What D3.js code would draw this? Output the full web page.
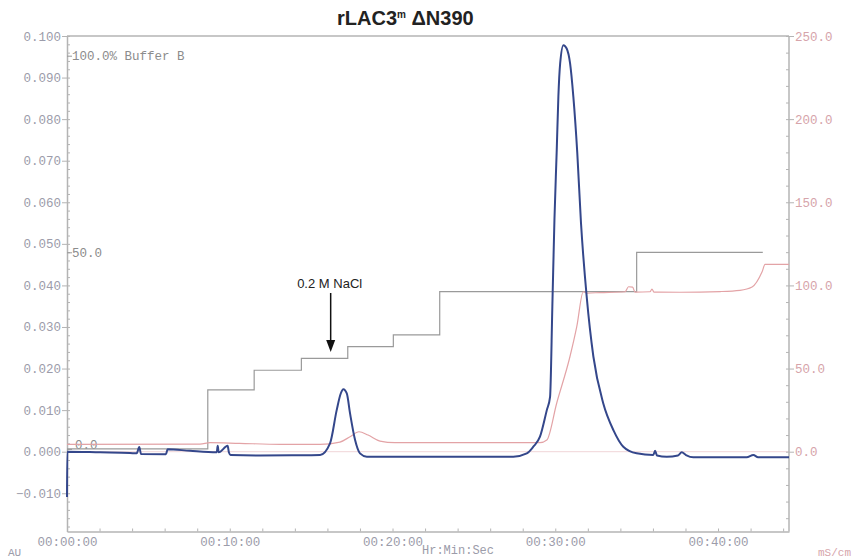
<!DOCTYPE html>
<html>
<head>
<meta charset="utf-8">
<script src="https://cdn.jsdelivr.net/npm/d3@7"></script>
<style>
  body { margin: 0; background: #fff; }
  text { font-family: "Liberation Mono", "DejaVu Sans Mono", monospace; }
</style>
</head>
<body>
<svg id="chart" width="858" height="558"></svg>
<script>
// UV 280 trace (time in min, absorbance in AU)
var uvTime = [0, 0.02, 2.03, 3.87, 4.28, 4.44, 4.55, 6.08, 6.18, 7.56, 9.2, 9.26, 9.32, 9.87, 9.95, 10.05,
  11.86, 14.32, 15.55, 16.16, 16.57, 16.82, 16.98, 17.19, 17.39, 17.7, 18.0, 18.42, 27.42, 28.25, 28.65,
  29.06, 29.48, 29.68, 29.82, 29.95, 30.09, 30.19, 30.3, 30.5, 30.7, 30.91, 31.11, 31.35, 31.58, 31.93, 32.34,
  32.95, 33.57, 34.18, 35.0, 36.02, 36.13, 36.25, 36.85, 37.54, 37.77, 38.03, 38.48, 41.76, 42.17, 42.46, 44.36];
var uvAbs = [-0.0109, 0.0, -0.00015, -0.0003, -0.0004, 0.0011, -0.00055, -0.0006, 0.0006, 0.0002, -0.00015, 0.0014, -0.00015, 0.0014, -0.0002, -0.0008,
  -0.0009, -0.00087, -0.0008, 0.002, 0.010, 0.014, 0.015, 0.014, 0.0092, 0.0028, -0.0004, -0.0012, -0.0012, -0.0004, 0.0012,
  0.0036, 0.010, 0.0132, 0.035, 0.056, 0.0726, 0.0854, 0.0934, 0.0978, 0.0970, 0.0934, 0.0854, 0.072, 0.055, 0.0373, 0.0229,
  0.0116, 0.0052, 0.0012, -0.0004, -0.0008, 0.0002, -0.0009, -0.0012, -0.0009, -0.00015, -0.0008, -0.00135, -0.00135, -0.0008, -0.00135, -0.00135];

// conductivity (mS/cm)
var condTime = [0, 8.17, 8.79, 10.6, 13.1, 15.55, 16.77, 17.39, 17.94, 18.5, 19.23, 20.15, 29.06, 29.48, 30.09, 30.9,
  31.32, 31.72, 31.95, 32.75, 34.29, 34.5, 34.75, 34.9, 35.82, 35.94, 36.06, 37.66, 40.12, 41.35, 42.09, 42.7, 42.89, 44.36];
var condValue = [4.45, 4.6, 5.4, 5.0, 4.45, 4.45, 5.8, 9.0, 12.0, 10.0, 6.4, 5.4, 5.4, 7.0, 29.3, 57.1,
  75.2, 96.2, 95.4, 95.7, 96.2, 99.2, 99.0, 96.0, 96.2, 97.8, 96.0, 95.9, 96.3, 97.0, 99.0, 108, 112.6, 112.6];

// step gradient (% Buffer B)
var gradTime = [0, 8.65, 11.5, 14.4, 17.25, 20.05, 22.9, 35.0, 42.75];
var gradPct = [0, 15, 20, 23, 26, 29, 40, 50, 50];

var auTicks = [-0.010, 0.000, 0.010, 0.020, 0.030, 0.040, 0.050, 0.060, 0.070, 0.080, 0.090, 0.100];
var condTicks = [0, 50, 100, 150, 200, 250];
var timeTicks = [0, 10, 20, 30, 40];
var timeLabels = ["00:00:00", "00:10:00", "00:20:00", "00:30:00", "00:40:00"];
var pctTicks = [0, 50, 100];
var pctLabels = ["0.0", "50.0", "100.0% Buffer B"];

var svg = d3.select("#chart");
var plotL = 67, plotR = 789, plotT = 36, plotB = 531.5;

var x = d3.scaleLinear().domain([0, 44.36]).range([plotL, plotR]);
var yAU = d3.scaleLinear().domain([-0.0192, 0.100]).range([plotB, plotT]);
var yCond = d3.scaleLinear().domain([0, 250]).range([yAU(0), yAU(0.1)]);
var yPct = d3.scaleLinear().domain([0, 100]).range([448.9, 55.7]);

var axisColor = "#b4b4b4", leftText = "#9c9caa", rightText = "#d6a4aa";

function styleAxis(g, color){
  g.select(".domain").attr("stroke", axisColor);
  g.selectAll(".tick line").attr("stroke", axisColor);
  g.selectAll(".tick text").attr("fill", color).style("font-size", "12.5px").style("font-family", "Liberation Mono, monospace");
}

// frame top line
svg.append("line").attr("x1", plotL).attr("x2", plotR).attr("y1", plotT).attr("y2", plotT)
  .attr("stroke", axisColor).attr("stroke-width", 1.5);

// faint zero line for conductivity
svg.append("line").attr("x1", plotL).attr("x2", plotR).attr("y1", yCond(0)).attr("y2", yCond(0))
  .attr("stroke", "#f0d6d8").attr("stroke-width", 1);

/*************************** axes ***************************/

var minorAU = d3.range(-18, 101, 2).map(function(d){ return d / 1000; });
svg.append("g").attr("transform", "translate(" + plotL + ",0)")
  .call(d3.axisRight(yAU).tickValues(minorAU).tickSize(3).tickFormat(""))
  .call(function(g){ g.select(".domain").remove(); g.selectAll("line").attr("stroke", axisColor); });

var gl = svg.append("g").attr("transform", "translate(" + plotL + ",0)")
  .call(d3.axisLeft(yAU).tickValues(auTicks).tickSize(5).tickPadding(1).tickFormat(d3.format(".3f")).tickSizeOuter(0));
styleAxis(gl, leftText);
gl.select(".domain").attr("stroke-width", 1.5);

var minorCond = d3.range(-40, 251, 10);
svg.append("g").attr("transform", "translate(" + plotR + ",0)")
  .call(d3.axisLeft(yCond).tickValues(minorCond).tickSize(3).tickFormat(""))
  .call(function(g){ g.select(".domain").remove(); g.selectAll("line").attr("stroke", axisColor); });

var gr = svg.append("g").attr("transform", "translate(" + plotR + ",0)")
  .call(d3.axisRight(yCond).tickValues(condTicks).tickSize(5).tickPadding(1).tickFormat(d3.format(".1f")).tickSizeOuter(0));
styleAxis(gr, rightText);
gr.select(".domain").attr("d", "M0," + plotT + "V" + plotB).attr("stroke-width", 1.5);

svg.append("g").attr("transform", "translate(0," + plotB + ")")
  .call(d3.axisTop(x).tickValues(d3.range(0, 44.36, 2)).tickSize(3).tickFormat(""))
  .call(function(g){ g.select(".domain").remove(); g.selectAll("line").attr("stroke", axisColor); });

var gb = svg.append("g").attr("transform", "translate(0," + plotB + ")")
  .call(d3.axisBottom(x).tickValues(timeTicks).tickSize(0).tickPadding(6)
    .tickFormat(function(d, i){ return timeLabels[i]; }).tickSizeOuter(0));
styleAxis(gb, leftText);
gb.select(".domain").attr("stroke-width", 1.5);

// % buffer B axis, drawn inside the left axis
var gp = svg.append("g").attr("transform", "translate(" + plotL + ",0)")
  .call(d3.axisRight(yPct).tickValues(pctTicks).tickSize(5).tickPadding(0)
    .tickFormat(function(d, i){ return pctLabels[i]; }));
gp.select(".domain").remove();
gp.selectAll(".tick line").attr("stroke", "#999");
gp.selectAll(".tick text").attr("fill", "#8c8c8c").style("font-size", "12.5px");
gp.selectAll(".tick text").filter(function(d){ return d == 0; }).attr("x", 8).attr("dy", "-0.05em");

/*************************** traces ***************************/

var grad = gradTime.map(function(t, i){ return [t, gradPct[i]]; });
svg.append("path").datum(grad)
  .attr("d", d3.line().x(function(d){ return x(d[0]); }).y(function(d){ return yPct(d[1]); }).curve(d3.curveStepAfter))
  .attr("fill", "none").attr("stroke", "#9a9a9a").attr("stroke-width", 1.2);

var cond = condTime.map(function(t, i){ return [t, condValue[i]]; });
svg.append("path").datum(cond)
  .attr("d", d3.line().x(function(d){ return x(d[0]); }).y(function(d){ return yCond(d[1]); }).curve(d3.curveMonotoneX))
  .attr("fill", "none").attr("stroke", "#e3a3a6").attr("stroke-width", 1.2);

var uv = uvTime.map(function(t, i){ return [t, uvAbs[i]]; });
svg.append("path").datum(uv)
  .attr("d", d3.line().x(function(d){ return x(d[0]); }).y(function(d){ return yAU(d[1]); }).curve(d3.curveMonotoneX))
  .attr("fill", "none").attr("stroke", "#34478b").attr("stroke-width", 2);

/*************************** labels ***************************/

var title = svg.append("text").attr("x", 337).attr("y", 25)
  .style("font-family", "Liberation Sans, Arial, sans-serif").style("font-weight", "bold").style("font-size", "20px").attr("fill", "#222");
title.append("tspan").text("rLAC3");
title.append("tspan").text("m").attr("dy", -7).style("font-size", "10px");
title.append("tspan").text(" \u0394N390").attr("dy", 7);

svg.append("text").attr("x", 8).attr("y", 556).text("AU").attr("fill", leftText).style("font-size", "11px");
svg.append("text").attr("x", 422).attr("y", 554).text("Hr:Min:Sec").attr("fill", leftText).style("font-size", "12px");
svg.append("text").attr("x", 818).attr("y", 556).text("mS/cm").attr("fill", rightText).style("font-size", "11px");

// 0.2 M NaCl annotation
var ax = x(16.2);
svg.append("text").attr("x", ax - 1).attr("y", 287.5).attr("text-anchor", "middle")
  .style("font-family", "Liberation Sans, Arial, sans-serif").style("font-size", "13px").attr("fill", "#222").text("0.2 M NaCl");
svg.append("line").attr("x1", ax).attr("x2", ax).attr("y1", 293).attr("y2", 342)
  .attr("stroke", "#111").attr("stroke-width", 1.5);
svg.append("path").attr("d", "M" + (ax - 4.5) + ",340L" + (ax + 4.5) + ",340L" + ax + ",352Z").attr("fill", "#111");
</script>
</body>
</html>
